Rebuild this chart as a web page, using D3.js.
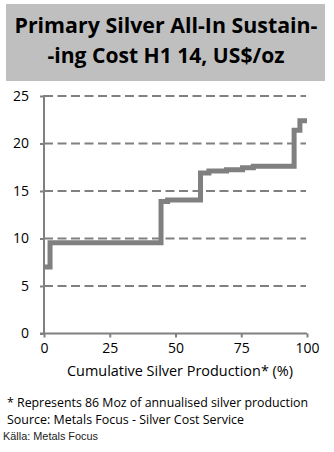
<!DOCTYPE html>
<html><head><meta charset="utf-8">
<script src="https://cdn.jsdelivr.net/npm/d3@7"></script>
<style>body{margin:0;background:#fff}svg{display:block}</style>
</head><body>
<script>
const titleLines = ["Primary Silver All-In Sustain-", "-ing Cost H1 14, US$/oz"];
const cumProd = [0, 2.3, 44.5, 47, 59.5, 62.7, 69.4, 75.5, 79.6, 95.1, 97.3, 100];
const cost    = [7.0, 9.55, 13.9, 14.05, 16.9, 17.1, 17.25, 17.45, 17.6, 21.4, 22.4, 22.4];
const yTicks = [0, 5, 10, 15, 20, 25];
const xTicks = [0, 25, 50, 75, 100];
const xTitle = "Cumulative Silver Production* (%)";
const notes = ["* Represents 86 Moz of annualised silver production", "Source: Metals Focus - Silver Cost Service"];
const source = "Källa: Metals Focus";

const W = 334, H = 452;
const svg = d3.select("body").append("svg").attr("width", W).attr("height", H);
const font = "'Open Sans', 'Noto Sans', sans-serif";

svg.append("rect").attr("x", 6).attr("y", 4).attr("width", 319).attr("height", 77).attr("fill", "#bfbfbf");
const tw = [303, 237];
titleLines.forEach((t, i) => {
  svg.append("text").attr("x", 166).attr("y", 33 + i * 30).attr("text-anchor", "middle")
    .attr("font-family", font).attr("font-weight", "bold").attr("font-size", 20.5)
    .attr("textLength", tw[i]).attr("lengthAdjust", "spacingAndGlyphs")
    .attr("fill", "#000").text(t);
});

const x = d3.scaleLinear().domain([0, 100]).range([44, 307]);
const y = d3.scaleLinear().domain([0, 25]).range([333.5, 96]);

const grid = svg.append("g");
yTicks.filter(d => d > 0).forEach(d => {
  grid.append("line").attr("x1", x(0)).attr("x2", x(100) - 1).attr("y1", y(d)).attr("y2", y(d))
    .attr("stroke", "#808080").attr("stroke-width", 2).attr("stroke-dasharray", "9,4.5");
});

const yAxis = svg.append("g").attr("transform", `translate(${x(0)},0)`)
  .call(d3.axisLeft(y).tickValues(yTicks).tickSize(4).tickPadding(11));
const xAxis = svg.append("g").attr("transform", `translate(0,${y(0)})`)
  .call(d3.axisBottom(x).tickValues(xTicks).tickSize(4).tickPadding(6));
[yAxis, xAxis].forEach(a => {
  a.select(".domain").attr("stroke", "#808080").attr("stroke-width", 2);
  a.selectAll(".tick line").attr("stroke", "#808080").attr("stroke-width", 2);
  a.selectAll(".tick text").attr("font-family", font).attr("font-size", 14).attr("fill", "#000");
});
yAxis.select(".domain").attr("d", `M-4,${y(0)}H0V${y(25) - 1}`);
xAxis.select(".domain").attr("d", `M${x(0)},0H${x(100)}`);

const pts = cumProd.map((p, i) => [p, cost[i]]);
svg.append("path").datum(pts)
  .attr("d", d3.line().x(d => x(d[0])).y(d => y(d[1])).curve(d3.curveStepAfter))
  .attr("fill", "none").attr("stroke", "#808080").attr("stroke-width", 5).attr("stroke-linejoin", "miter");

svg.append("text").attr("x", 180).attr("y", 376).attr("text-anchor", "middle")
  .attr("font-family", font).attr("font-size", 14).attr("fill", "#000")
  .attr("textLength", 226).attr("lengthAdjust", "spacingAndGlyphs").text(xTitle);

const nw = [301, 237];
notes.forEach((t, i) => {
  svg.append("text").attr("x", 7).attr("y", 407 + i * 16.5)
    .attr("font-family", font).attr("font-size", 13).attr("fill", "#000")
    .attr("textLength", nw[i]).attr("lengthAdjust", "spacingAndGlyphs").text(t);
});
svg.append("text").attr("x", 3).attr("y", 440)
  .attr("font-family", "'Liberation Sans', Arial, sans-serif").attr("font-size", 11).attr("fill", "#222")
  .attr("textLength", 95).attr("lengthAdjust", "spacingAndGlyphs").text(source);
</script>
</body></html>
